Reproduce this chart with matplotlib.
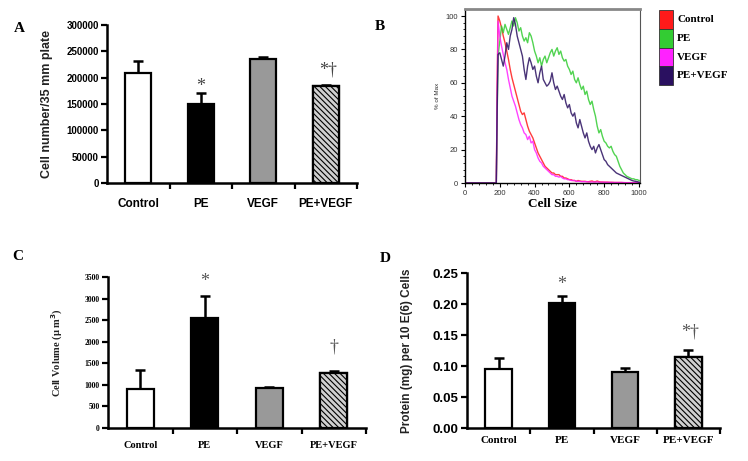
import matplotlib
matplotlib.use("Agg")
import matplotlib.pyplot as plt
from matplotlib.patches import Rectangle

# ---------------- data ----------------
groups = ["Control", "PE", "VEGF", "PE+VEGF"]

cell_number = [208000, 150000, 235000, 184000]
cell_number_err = [24000, 20000, 3500, 2000]

cell_volume = [900, 2560, 920, 1270]
cell_volume_err = [450, 510, 30, 50]

protein = [0.095, 0.201, 0.091, 0.115]
protein_err = [0.018, 0.012, 0.005, 0.011]

annot_A = ["", "*", "", "*\u2020"]
annot_C = ["", "*", "", "\u2020"]
annot_D = ["", "*", "", "*\u2020"]

# Panel B histogram (cell size vs % of max)
size_x = [0, 180, 185,
          190, 200, 210, 220, 230, 240, 250, 260, 270, 280,
          290, 300, 310, 320, 330, 340, 350, 360, 370, 380,
          390, 400, 410, 420, 430, 440, 450, 460, 470, 480,
          490, 500, 510, 520, 530, 540, 550, 560, 570, 580,
          590, 600, 610, 620, 630, 640, 650, 660, 670, 680,
          690, 700, 710, 720, 730, 740, 750, 760, 770, 780,
          790, 800, 810, 820, 830, 840, 850, 860, 870, 880,
          890, 900, 910, 920, 930, 940, 950, 960, 970, 980,
          990, 1000, 1010]

hist_control = [0, 0, 60,
                100, 97, 93, 88, 84, 79, 74, 68, 63, 59,
                55, 51, 47, 43, 41, 42, 38, 34, 31, 29,
                27, 24, 21, 18, 16, 14, 12, 10, 9, 8,
                7, 6, 6, 5, 5, 5, 4, 4, 3, 3,
                2.5, 2, 2, 1.5, 1.5, 1, 1.5, 1.2, 1, 1,
                1, 0.8, 0.8, 1, 1.2, 0.8, 0.8, 1.2, 0.8, 0.6,
                0.6, 0.5, 0.5, 0.5, 0.4, 0.4, 0.4, 0.3, 0.3, 0.3,
                0.3, 0.3, 0.2, 0.2, 0.2, 0.2, 0.2, 0.2, 0.2, 0.2,
                0.2, 0.2, 0.2]

hist_pe = [0, 0, 40,
           76, 85, 94, 90, 95, 92, 89, 93, 97, 94,
           99, 96, 91, 93, 88, 85, 87, 84, 90, 88,
           84, 79, 76, 72, 75, 70, 74, 76, 72, 75,
           78, 80, 76, 79, 81, 77, 79, 75, 73, 74,
           70, 68, 65, 67, 62, 60, 63, 59, 56, 58,
           53, 55, 50, 47, 49, 44, 40, 34, 30, 32,
           28, 25, 24, 22, 21, 22, 19, 17, 16, 13,
           10, 8, 6, 5, 4, 3.5, 3, 2.5, 2.5, 2,
           2, 1.5, 1.5]

hist_vegf = [0, 0, 55,
             97, 88, 82, 77, 72, 68, 62, 57, 52, 49,
             46, 42, 38, 35, 33, 30, 29, 26, 28, 24,
             25, 20, 18, 15, 13, 12, 10, 9, 8, 7,
             6, 5, 5, 4, 4, 3.5, 4, 3, 2.5, 2.5,
             2, 2, 1.5, 1.5, 1.5, 1, 1, 1, 0.8, 0.8,
             0.8, 0.8, 0.6, 0.6, 0.6, 0.6, 0.6, 0.6, 0.5, 0.5,
             0.5, 0.5, 0.4, 0.4, 0.4, 0.4, 0.3, 0.3, 0.3, 0.3,
             0.3, 0.3, 0.3, 0.2, 0.2, 0.2, 0.2, 0.2, 0.2, 0.2,
             0.2, 0.2, 0.2]

hist_pe_vegf = [0, 0, 45,
                77, 78, 74, 70, 76, 84, 80, 88, 92, 99,
                95, 88, 84, 80, 76, 68, 62, 70, 75, 72,
                68, 70, 64, 60, 66, 70, 62, 60, 58, 59,
                61, 66, 60, 56, 58, 55, 52, 50, 53, 48,
                45, 47, 42, 40, 42, 36, 33, 38, 34, 30,
                27, 30, 25, 22, 20, 22, 18, 21, 23, 20,
                17, 14, 13, 11, 10, 9, 8, 7, 6, 5.5,
                5, 4.5, 4, 3.5, 3, 2.5, 2, 1.5, 1.2, 1,
                0.8, 0.5, 0.4]

hist_series = [("Control", hist_control, "#ff1a1a"),
               ("PE", hist_pe, "#33cc33"),
               ("VEGF", hist_vegf, "#ff22ff"),
               ("PE+VEGF", hist_pe_vegf, "#2a1060")]

# ---------------- styling ----------------
SANS = "Liberation Sans"
SERIF = "Liberation Serif"
bar_faces = ["white", "black", "#999999", "#d0d0d0"]
bar_hatch = [None, None, None, "\\\\\\\\\\\\"]
plt.rcParams["hatch.linewidth"] = 0.8
plt.rcParams["hatch.color"] = "#2a2a2a"

W, H = 748, 461
fig = plt.figure(figsize=(W / 100, H / 100), dpi=100)
fig.patch.set_facecolor("white")


def ax_px(l, t, r, b):
    return fig.add_axes([l / W, 1 - b / H, (r - l) / W, (b - t) / H])


def bar_panel(ax, vals, errs, annots, ylim, yticks, tickfmt, tick_font, tick_size,
              xfont, xsize, xpad, ylabel, yfont, ysize, ylab_x, ann_off, ann_color):
    xs = list(range(len(groups)))
    ax.bar(xs, vals, width=0.42, color=bar_faces, edgecolor="black",
           linewidth=1.6, zorder=2)
    for i, h in enumerate(bar_hatch):
        if h:
            ax.bar([xs[i]], [vals[i]], width=0.42, color=bar_faces[i],
                   edgecolor="black", linewidth=1.6, hatch=h, zorder=2)
    ax.errorbar(xs, vals, yerr=[[0] * len(errs), errs], fmt="none",
                ecolor="black", elinewidth=1.8, capsize=3.5, capthick=1.8, zorder=1)
    for i, a in enumerate(annots):
        if a:
            ax.text(xs[i] + (0.03 if len(a) > 1 else 0), vals[i] + errs[i] + ann_off[i], a,
                    ha="center", va="center", fontsize=13, color=ann_color,
                    family=SERIF)
    ax.set_xlim(-0.5, 3.5)
    ax.set_ylim(*ylim)
    ax.set_yticks(yticks)
    ax.set_yticklabels([tickfmt(v) for v in yticks], family=tick_font,
                       fontweight="bold", fontsize=tick_size)
    ax.set_xticks(xs)
    ax.set_xticklabels(groups, family=xfont, fontweight="bold", fontsize=xsize)
    ax.set_xticks([0.5, 1.5, 2.5, 3.5], minor=True)
    ax.tick_params(axis="x", which="major", length=0, pad=xpad)
    ax.tick_params(axis="x", which="minor", length=4, width=1.6, direction="out")
    ax.tick_params(axis="y", length=4, width=1.6, direction="out", pad=2)
    for s in ["top", "right"]:
        ax.spines[s].set_visible(False)
    for s in ["left", "bottom"]:
        ax.spines[s].set_linewidth(1.8)
    ax.set_ylabel(ylabel, family=yfont, fontweight="bold", fontsize=ysize,
                  color="#222222")
    ax.yaxis.set_label_coords(ylab_x, 0.5)


# ---- Panel A ----
axA = ax_px(107, 25, 357, 183)
bar_panel(axA, cell_number, cell_number_err, annot_A, (0, 300000),
          [0, 50000, 100000, 150000, 200000, 250000, 300000],
          lambda v: f"{int(v)}", SANS, 7, SANS, 8.5, 11,
          "Cell number/35 mm plate", SANS, 9, -0.215,
          [0, 13000, 0, 29000], "#444444")

# ---- Panel C ----
axC = ax_px(108, 277, 366, 428)
bar_panel(axC, cell_volume, cell_volume_err, annot_C, (0, 3500),
          [0, 500, 1000, 1500, 2000, 2500, 3000, 3500],
          lambda v: f"{int(v)}", SERIF, 5.5, SERIF, 7.5, 9,
          "Cell Volume (\u03bc m$^{\\mathbf{3}}$)", SERIF, 7.5, -0.165,
          [0, 330, 0, 560], "#555555")

# ---- Panel D ----
axD = ax_px(467, 273, 720, 428)
bar_panel(axD, protein, protein_err, annot_D, (0, 0.25),
          [0.0, 0.05, 0.10, 0.15, 0.20, 0.25],
          lambda v: f"{v:.2f}", SANS, 9.5, SERIF, 8, 6,
          "Protein (mg) per 10 E(6) Cells", SANS, 8.5, -0.215,
          [0, 0.018, 0, 0.029], "#555555")

# ---- Panel B ----
axB = ax_px(465, 9, 640, 183)
for name, ys, col in hist_series:
    axB.plot(size_x, ys, color=col, lw=1.0, alpha=0.85)
axB.set_xlim(0, 1006)
axB.set_ylim(0, 104.2)
axB.set_xticks([0, 200, 400, 600, 800, 1000])
axB.set_yticks([0, 20, 40, 60, 80, 100])
axB.set_xticks(range(0, 1001, 40), minor=True)
axB.set_yticks(range(0, 101, 4), minor=True)
axB.tick_params(which="major", length=3, width=0.8, labelsize=5.5, pad=2,
                labelcolor="#333333")
axB.tick_params(which="minor", length=1.5, width=0.6)
for lab in axB.get_xticklabels() + axB.get_yticklabels():
    lab.set_family(SANS)
for s in ["left", "bottom"]:
    axB.spines[s].set_linewidth(1.0)
axB.spines["top"].set_linewidth(2.0)
axB.spines["top"].set_color("#888888")
axB.spines["right"].set_linewidth(0.8)
axB.spines["right"].set_color("#555555")
axB.set_xlabel("Cell Size", family=SERIF, fontweight="bold", fontsize=9.5,
               labelpad=1)
axB.set_ylabel("% of Max", family=SANS, fontsize=4.5, color="#333333")
axB.yaxis.set_label_coords(-0.143, 0.5)

# legend for panel B
for i, (name, ys, col) in enumerate(hist_series):
    top = 10 + i * 18.8
    fig.patches.append(Rectangle((659 / W, 1 - (top + 18.8) / H), 14 / W, 18.8 / H,
                                 transform=fig.transFigure, facecolor=col,
                                 edgecolor="#333333", linewidth=0.6))
    fig.text(677 / W, 1 - (top + 9.4) / H, name, family=SERIF,
             fontweight="bold", fontsize=8, va="center", ha="left")

# panel letters
for letter, x, y in [("A", 19, 28), ("B", 380, 27), ("C", 18, 257), ("D", 385, 258)]:
    fig.text(x / W, 1 - y / H, letter, family=SERIF, fontweight="bold",
             fontsize=11, ha="center", va="center")

fig.savefig("out.png", dpi=100, facecolor="white")
